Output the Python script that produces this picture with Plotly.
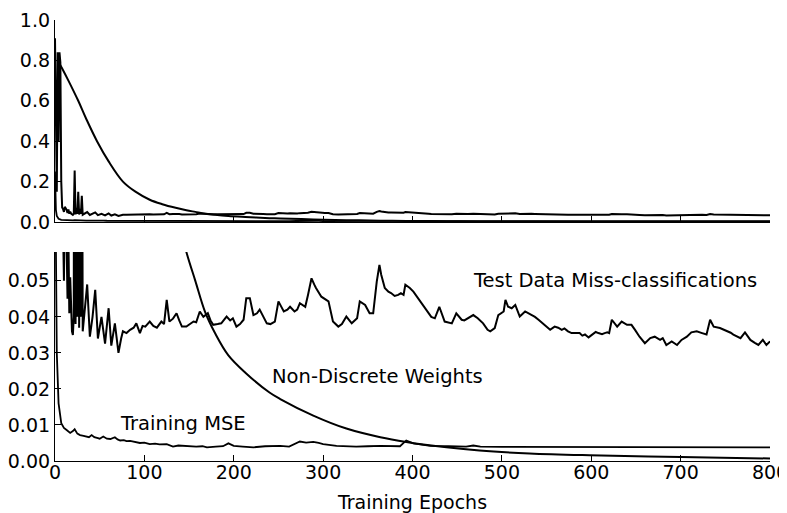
import plotly.graph_objects as go
from plotly.subplots import make_subplots

# test data miss-classification rate (epoch, value)
test_epochs = [0, 1, 2, 3, 4, 5, 6, 7, 8, 9, 10, 11, 12, 13, 14, 15, 16, 17, 18, 19, 20, 21, 22, 23, 24, 25,
               26, 27, 28, 29, 30, 31, 32, 34, 36, 39, 42, 45, 48, 52, 56, 60, 63, 67, 71, 74, 76, 80, 84, 88,
               91, 95, 98, 101, 106, 110, 114, 119, 122, 125, 128, 132, 136, 139, 142, 147, 151, 155, 158, 162,
               166, 171, 174, 177, 182, 186, 192, 196, 199, 203, 207, 211, 214, 218, 222, 226, 229, 233, 237,
               241, 246, 250, 256, 260, 263, 268, 271, 274, 280, 283, 287, 290, 292, 298, 302, 306, 311, 317,
               321, 326, 332, 338, 341, 347, 352, 356, 360, 363, 365, 369, 373, 376, 380, 384, 387, 390, 392,
               397, 401, 405, 409, 412, 418, 421, 425, 430, 436, 440, 444, 449, 455, 458, 462, 468, 473, 479,
               484, 487, 492, 496, 502, 504, 507, 511, 515, 520, 526, 530, 533, 537, 541, 544, 548, 554, 559,
               563, 567, 570, 574, 578, 582, 587, 590, 593, 597, 602, 605, 608, 612, 615, 618, 620, 623, 629,
               634, 640, 645, 649, 654, 660, 666, 671, 677, 680, 684, 690, 696, 701, 707, 712, 718, 724, 729,
               733, 737, 744, 748, 752, 756, 759, 763, 767, 772, 778, 783, 787, 792, 796, 800]
test_values = [0.91, 0.55, 0.15, 0.84, 0.40, 0.84, 0.79, 0.20, 0.072, 0.065, 0.050, 0.075, 0.068, 0.060, 0.045,
               0.062, 0.041, 0.051, 0.042, 0.036, 0.035, 0.040, 0.255, 0.038, 0.070, 0.040, 0.150, 0.037, 0.065,
               0.040, 0.130, 0.036, 0.039, 0.044, 0.049, 0.0345, 0.040, 0.0475, 0.034, 0.040, 0.0326, 0.0424,
               0.032, 0.0382, 0.030, 0.034, 0.036, 0.0355, 0.0364, 0.037, 0.0382, 0.0355, 0.0375, 0.0373,
               0.0387, 0.0375, 0.037, 0.0387, 0.038, 0.0447, 0.0387, 0.0395, 0.041, 0.039, 0.0373, 0.0373,
               0.038, 0.0387, 0.0385, 0.0415, 0.040, 0.041, 0.039, 0.0378, 0.038, 0.0382, 0.0401, 0.039,
               0.0396, 0.0373, 0.038, 0.0392, 0.0452, 0.0452, 0.0405, 0.041, 0.042, 0.040, 0.0382, 0.038,
               0.0387, 0.0443, 0.0415, 0.042, 0.0428, 0.0415, 0.042, 0.0438, 0.0428, 0.046, 0.0507, 0.049,
               0.048, 0.0456, 0.045, 0.0443, 0.0387, 0.0373, 0.038, 0.0401, 0.0382, 0.0396, 0.0443, 0.0433,
               0.041, 0.041, 0.0498, 0.0544, 0.0517, 0.048, 0.047, 0.0466, 0.0458, 0.0461, 0.0466, 0.0461,
               0.0489, 0.048, 0.047, 0.0456, 0.044, 0.0433, 0.041, 0.040, 0.0396, 0.0428, 0.0387, 0.0385,
               0.0382, 0.041, 0.0392, 0.039, 0.0396, 0.0405, 0.0396, 0.0382, 0.0364, 0.036, 0.0369, 0.0405,
               0.0415, 0.0447, 0.0428, 0.0424, 0.0433, 0.0401, 0.0415, 0.041, 0.0405, 0.040, 0.0392, 0.0385,
               0.0378, 0.0364, 0.0373, 0.037, 0.0364, 0.0368, 0.036, 0.0355, 0.0355, 0.0355, 0.0348, 0.0351,
               0.0343, 0.0353, 0.0358, 0.0355, 0.0352, 0.0355, 0.0357, 0.0355, 0.0392, 0.0373, 0.0387, 0.0378,
               0.0378, 0.0364, 0.0345, 0.0327, 0.0341, 0.0345, 0.0336, 0.0341, 0.0322, 0.0332, 0.0322, 0.0336,
               0.0345, 0.0357, 0.036, 0.0355, 0.0351, 0.0392, 0.0373, 0.0369, 0.0365, 0.036, 0.0356, 0.0351,
               0.0347, 0.0341, 0.0357, 0.0336, 0.0328, 0.0322, 0.0336, 0.0322, 0.0332]

# non-discrete weights
nd_epochs = [3, 8, 15, 26, 35, 47, 60, 76, 90, 106, 120, 135, 147, 157, 168, 179, 194, 213, 240, 252, 289,
             326, 364, 393, 438, 475, 531, 598, 700, 800]
nd_values = [0.80, 0.76, 0.70, 0.60, 0.51, 0.40, 0.30, 0.20, 0.150, 0.110, 0.088, 0.070, 0.058, 0.050, 0.0413,
             0.0355, 0.0293, 0.0245, 0.0190, 0.0172, 0.0126, 0.0090, 0.0066, 0.0053, 0.0038, 0.0029, 0.0021,
             0.0016, 0.0011, 0.0007]

# training MSE
mse_epochs = [0, 1, 2, 4, 7, 10, 13, 17, 20, 22, 25, 28, 32, 35, 38, 41, 44, 47, 50, 54, 58, 62, 67, 70, 73,
              77, 80, 84, 88, 92, 95, 100, 106, 112, 117, 125, 132, 138, 144, 150, 158, 165, 170, 180, 188,
              194, 200, 210, 222, 235, 252, 262, 270, 274, 281, 289, 295, 300, 315, 337, 350, 364, 386, 391,
              393, 401, 410, 420, 440, 460, 468, 476, 500, 550, 600, 650, 700, 750, 800]
mse_values = [0.25, 0.06, 0.030, 0.016, 0.0105, 0.0092, 0.0086, 0.0078, 0.0083, 0.0088, 0.0076, 0.0072, 0.0070,
              0.0068, 0.0066, 0.0072, 0.0066, 0.0064, 0.0062, 0.0068, 0.0062, 0.0061, 0.0066, 0.0060, 0.0057,
              0.0058, 0.0055, 0.0056, 0.0054, 0.0052, 0.0050, 0.0051, 0.0047, 0.0048, 0.0046, 0.0047, 0.0040,
              0.0043, 0.0042, 0.0041, 0.0040, 0.0041, 0.0038, 0.0040, 0.0041, 0.0049, 0.0042, 0.0040, 0.0038,
              0.0041, 0.0042, 0.0040, 0.0049, 0.0054, 0.0051, 0.0053, 0.0050, 0.0047, 0.0042, 0.0040, 0.0041,
              0.0042, 0.0041, 0.0054, 0.0057, 0.0049, 0.0045, 0.0042, 0.0041, 0.0040, 0.0043, 0.0040, 0.0039,
              0.0039, 0.0038, 0.0038, 0.0038, 0.0038, 0.0038]

x_ticks = [0, 100, 200, 300, 400, 500, 600, 700, 800]

fig = make_subplots(rows=2, cols=1)

for row in [1, 2]:
    fig.add_scatter(x=test_epochs, y=test_values, mode="lines",
                    line=dict(color="black", width=2), row=row, col=1)
    fig.add_scatter(x=nd_epochs, y=nd_values, mode="lines",
                    line=dict(color="black", width=2, shape="spline"), row=row, col=1)
    fig.add_scatter(x=mse_epochs, y=mse_values, mode="lines",
                    line=dict(color="black", width=1.8), row=row, col=1)

axis_style = dict(showline=True, linecolor="black", linewidth=1.3, ticks="inside", ticklen=6,
                  tickcolor="black", showgrid=False, zeroline=False, mirror=False, automargin=False,
                  ticklabeloverflow="allow",
                  tickfont=dict(family="DejaVu Sans", size=19, color="black"))

# page body adds an 8px offset, so the figure is a bit smaller than the window
fig.update_layout(
    width=779, height=505,
    margin=dict(l=47, r=17, t=12, b=52),
    plot_bgcolor="white",
    paper_bgcolor="white",
    showlegend=False,
    font=dict(family="DejaVu Sans", size=19, color="black"),
    xaxis=dict(axis_style, domain=[0, 1], range=[0, 800], tickvals=x_ticks, showticklabels=False, anchor="y"),
    yaxis=dict(axis_style, domain=[0.5420, 1], range=[0, 1.0], tickvals=[0, 0.2, 0.4, 0.6, 0.8, 1.0],
               tickformat=".1f", anchor="x"),
    xaxis2=dict(axis_style, domain=[0, 1], range=[0, 800], tickvals=x_ticks, anchor="y2",
                ticklabelstandoff=-6,
                title=dict(text="Training Epochs", standoff=15,
                           font=dict(family="DejaVu Sans", size=19, color="black"))),
    yaxis2=dict(axis_style, domain=[0, 0.4739], range=[0, 0.058],
                tickvals=[0, 0.01, 0.02, 0.03, 0.04, 0.05], tickformat=".2f", anchor="x2"),
    annotations=[
        dict(x=466, y=0.0500, xref="x2", yref="y2", text="Test Data Miss-classifications",
             showarrow=False, xanchor="left", yanchor="middle", font=dict(size=19.5)),
        dict(x=240, y=0.0235, xref="x2", yref="y2", text="Non-Discrete Weights",
             showarrow=False, xanchor="left", yanchor="middle", font=dict(size=19.5)),
        dict(x=70, y=0.0105, xref="x2", yref="y2", text="Training MSE",
             showarrow=False, xanchor="left", yanchor="middle", font=dict(size=19.5)),
    ],
)

fig.write_html("out.html")
